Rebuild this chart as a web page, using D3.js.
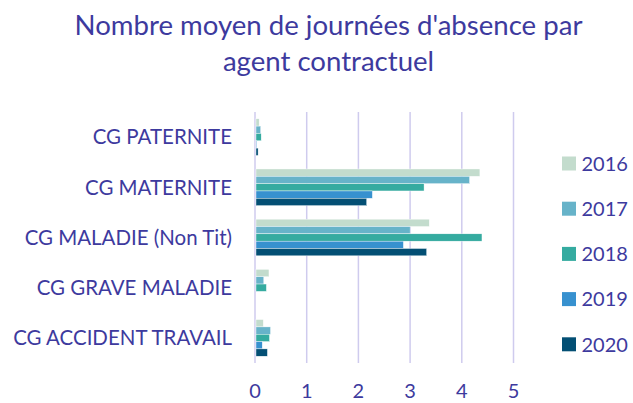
<!DOCTYPE html>
<html><head><meta charset="utf-8">
<script src="https://cdn.jsdelivr.net/npm/d3@7"></script>
<style>
html,body{margin:0;padding:0;background:#fff;}
svg{display:block;}
text{font-family:Lato,"Open Sans",sans-serif;fill:#3d3a9e;}
</style></head>
<body>
<svg id="c" width="633" height="403"></svg>
<script>
const titleLines = ["Nombre moyen de journées d'absence par", "agent contractuel"];
const categories = ["CG PATERNITE", "CG MATERNITE", "CG MALADIE (Non Tit)", "CG GRAVE MALADIE", "CG ACCIDENT TRAVAIL"];
const years = ["2016", "2017", "2018", "2019", "2020"];
const v2016 = [0.08, 4.35, 3.37, 0.27, 0.16];
const v2017 = [0.11, 4.15, 3.00, 0.17, 0.30];
const v2018 = [0.12, 3.27, 4.39, 0.22, 0.28];
const v2019 = [0.03, 2.27, 2.87, 0, 0.14];
const v2020 = [0.06, 2.16, 3.32, 0, 0.24];
const xTicks = [0, 1, 2, 3, 4, 5];
const colors = ["#c3dccd", "#67b3c9", "#35aba0", "#3791cf", "#034f74"];

const series = [v2016, v2017, v2018, v2019, v2020];
const svg = d3.select("#c");

function fit(sel, target, size) {
  sel.attr("font-size", size);
  const w = sel.node().getComputedTextLength();
  sel.attr("font-size", size * target / w);
}

// Title
const t1 = svg.append("text").attr("x", 328.5).attr("y", 35).attr("text-anchor", "middle").text(titleLines[0]);
fit(t1, 508, 26);
svg.append("text").attr("x", 328.5).attr("y", 71).attr("text-anchor", "middle").text(titleLines[1]).attr("font-size", t1.attr("font-size"));

const x = d3.scaleLinear().domain([0, 5]).range([255, 513.5]);
const y = d3.scaleBand().domain(categories).range([112, 363]).paddingInner(0.27).paddingOuter(0.135);
const yInner = d3.scaleBand().domain(years).range([0, y.bandwidth()]);

// Gridlines
svg.append("g").selectAll("line").data(xTicks).join("line")
  .attr("x1", d => x(d)).attr("x2", d => x(d))
  .attr("y1", 112).attr("y2", 363)
  .attr("stroke", "#cfcbee").attr("stroke-width", 1.5);

// Bars
const groups = svg.append("g").selectAll("g").data(categories).join("g")
  .attr("transform", c => `translate(0,${y(c)})`);
groups.selectAll("rect").data((c, i) => years.map((yr, k) => ({yr, k, v: series[k][i]})))
  .join("rect")
  .attr("x", x(0) + 1)
  .attr("y", d => yInner(d.yr))
  .attr("width", d => Math.max(0, x(d.v) - x(0) - 1))
  .attr("height", yInner.bandwidth())
  .attr("fill", d => colors[d.k])
  .attr("stroke", "#ffffff").attr("stroke-width", 0.4)
  .attr("display", d => d.v > 0 ? null : "none");

// Category labels
const labs = svg.append("g").selectAll("text").data(categories).join("text")
  .attr("x", 232).attr("y", c => y(c) + y.bandwidth() / 2)
  .attr("dy", "0.36em").attr("text-anchor", "end").text(c => c);
const longLab = labs.filter(c => c === "CG ACCIDENT TRAVAIL");
fit(longLab, 219, 18);
labs.attr("font-size", longLab.attr("font-size"));

// X axis tick labels
svg.append("g").selectAll("text").data(xTicks).join("text")
  .attr("x", d => x(d)).attr("y", 398).attr("text-anchor", "middle")
  .attr("font-size", 20).text(d => d);

// Legend
const leg = svg.append("g").selectAll("g").data(years).join("g")
  .attr("transform", (d, i) => `translate(562,${163.5 + i * 45.2})`);
leg.append("rect").attr("x", 0).attr("y", -7).attr("width", 14).attr("height", 14)
  .attr("fill", (d, i) => colors[i]);
leg.append("text").attr("x", 19.5).attr("y", 0).attr("dy", "0.36em").attr("font-size", 20).text(d => d);
</script>
</body></html>
